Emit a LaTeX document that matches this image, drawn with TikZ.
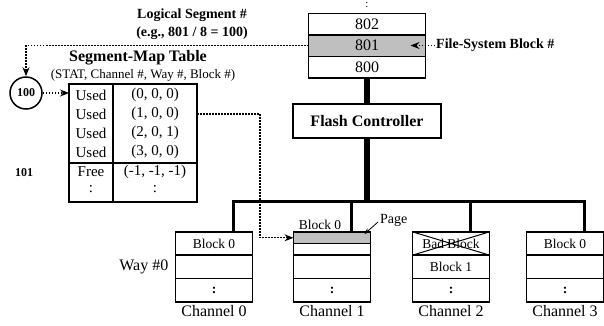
\documentclass[tikz,border=0pt]{standalone}
\usepackage{fontspec}
\setmainfont{Liberation Serif}
\usetikzlibrary{shapes, arrows.meta, positioning}
\tikzstyle{fsblock} = [draw, line width=1.5pt, minimum width=117pt, minimum height=21.5pt, inner sep=0pt, outer sep=0pt, font=\fontsize{16}{18}\selectfont]
\tikzstyle{row} = [draw, line width=1.8pt, minimum width=77pt, minimum height=23.3pt, inner sep=0pt, outer sep=0pt, font=\fontsize{13.5}{15}\selectfont]
\tikzstyle{page} = [draw, line width=1pt, fill=gray!50, minimum width=77pt, minimum height=11.6pt, inner sep=0pt, outer sep=0pt]
\tikzstyle{tag} = [font=\fontsize{14}{16}\selectfont\bfseries, inner sep=1pt]
\tikzstyle{cellt} = [font=\fontsize{15}{17}\selectfont, inner sep=0pt]
\tikzstyle{chlabel} = [font=\fontsize{16}{18}\selectfont, inner sep=1pt]
\tikzstyle{ptr} = [line width=1.2pt, dash pattern=on 1.5pt off 1.5pt, -{Stealth[length=9pt,width=7pt]}]
\tikzstyle{bus} = [line width=3pt]
\tikzstyle{trunk} = [line width=6pt]

\begin{document}
\begin{tikzpicture}[x=1pt, y=-1pt]
	\useasboundingbox (0,0) rectangle (604,325);
	\node[cellt, font=\fontsize{11}{11}\selectfont] (more) at (367,5) {:};
	\node[fsblock] (b802) at (367,24) {802};
	\node[fsblock, fill=gray!50, below=0pt of b802] (b801) {801};
	\node[fsblock, below=0pt of b801] (b800) {800};
	\node[tag, anchor=west] (fsb) at (435,45.5) {File-System Block \#};
	\draw[ptr] (fsb.west) -- ([xshift=-15pt]b801.east);
	\node[draw, line width=1.8pt, minimum width=148pt, minimum height=34pt, font=\fontsize{16}{18}\selectfont\bfseries] (fc) at (367,121) {Flash Controller};
	\draw[trunk] (b800.south) -- (fc.north);
	\coordinate (hub) at (367,201);
	\draw[trunk] (fc.south) -- (hub);
	\node[tag] (ls) at (192,15) {Logical Segment \#};
	\node[tag] (ex) at (192,33) {(e.g., 801 / 8 = 100)};
	\node[circle, draw, line width=1.5pt, minimum size=32pt, inner sep=0pt, font=\fontsize{12}{12}\selectfont\bfseries] (seg) at (26,93) {100};
	\node[tag, font=\fontsize{12}{12}\selectfont\bfseries] (nxt) at (24,173) {101};
	\node[font=\fontsize{16}{18}\selectfont\bfseries, inner sep=0pt] (smtt) at (138,58) {Segment-Map Table};
	\node[font=\fontsize{13}{15}\selectfont, inner sep=0pt] (smts) at (143,75) {(STAT, Channel \#, Way \#, Block \#)};
	\node[draw, line width=2.5pt, minimum width=128pt, minimum height=118pt, outer sep=0pt] (smt) at (133,143) {};
	\draw[line width=1.8pt] ([xshift=44pt]smt.north west) -- ([xshift=44pt]smt.south west);
	\draw[line width=1.8pt] ([yshift=-79pt]smt.north west) -- ([yshift=-79pt]smt.north east);
	\foreach \st/\val [count=\i] in {Used/{(0, 0, 0)}, Used/{(1, 0, 0)}, Used/{(2, 0, 1)}, Used/{(3, 0, 0)}}{
		\node[cellt] (st\i) at (91,76+19*\i) {\st};
		\node[cellt] (val\i) at (155,76+19*\i) {\val};
	}
	\node[cellt] (st5) at (91,172) {Free};
	\node[cellt] (val5) at (155,172) {(-1, -1, -1)};
	\node[cellt] (st6) at (91,189) {:};
	\node[cellt] (val6) at (155,189) {:};
	\draw[ptr] (b801.west) -| (seg.north);
	\draw[ptr] (seg.east) -- (seg.east -| smt.west);
	% channel 0
	\node[row] (c0r1) at (214,243.5) {Block 0};
	\node[row, below=0pt of c0r1] (c0r2) {};
	\node[row, below=0pt of c0r2] (c0r3) {\textbf{:}};
	\node[chlabel, below=2pt of c0r3] (ch0) {Channel 0};
	\node[chlabel, left=6pt of c0r2] (way) {Way \#0};
	% channel 1
	\node[page] (c1pg) at (332,237.8) {};
	\node[row] (c1r1) at (332,243.5) {};
	\node[row, below=0pt of c1r1] (c1r2) {};
	\node[row, below=0pt of c1r2] (c1r3) {\textbf{:}};
	\node[chlabel, below=2pt of c1r3] (ch1) {Channel 1};
	\node[cellt, font=\fontsize{13.5}{15}\selectfont, anchor=south] (c1lbl) at ([xshift=-12pt,yshift=2pt]c1r1.north) {Block 0};
	\node[cellt, font=\fontsize{14}{16}\selectfont, anchor=west] (pg) at (380,220) {Page};
	\draw[line width=0.8pt, -{Stealth[length=6pt,width=5pt]}] ([xshift=-2pt,yshift=-2pt]pg.west) -- ([xshift=-6pt,yshift=-2pt]c1pg.north east);
	\coordinate (bend) at (260,0);
	\draw[ptr] (smt.east |- st2) -| (bend |- c1pg.west) -- (c1pg.west);
	% channel 2
	\node[row] (c2r1) at (451,243.5) {Bad Block};
	\draw[line width=1pt] (c2r1.north west) -- (c2r1.south east) (c2r1.south west) -- (c2r1.north east);
	\node[row, below=0pt of c2r1] (c2r2) {Block 1};
	\node[row, below=0pt of c2r2] (c2r3) {\textbf{:}};
	\node[chlabel, below=2pt of c2r3] (ch2) {Channel 2};
	% channel 3
	\node[row] (c3r1) at (565,243.5) {Block 0};
	\node[row, below=0pt of c3r1] (c3r2) {};
	\node[row, below=0pt of c3r2] (c3r3) {\textbf{:}};
	\node[chlabel, below=2pt of c3r3] (ch3) {Channel 3};
	% bus
	\coordinate (d0) at ([xshift=19pt]c0r1.north);
	\coordinate (d1) at ([xshift=19pt]c1r1.north);
	\coordinate (d2) at ([xshift=19pt]c2r1.north);
	\coordinate (d3) at ([xshift=19pt]c3r1.north);
	\draw[bus] (d0) -- (d0 |- hub) -- (d3 |- hub) -- (d3);
	\draw[bus] (d1 |- hub) -- (d1);
	\draw[bus] (d2 |- hub) -- (d2);
\end{tikzpicture}
\end{document}
